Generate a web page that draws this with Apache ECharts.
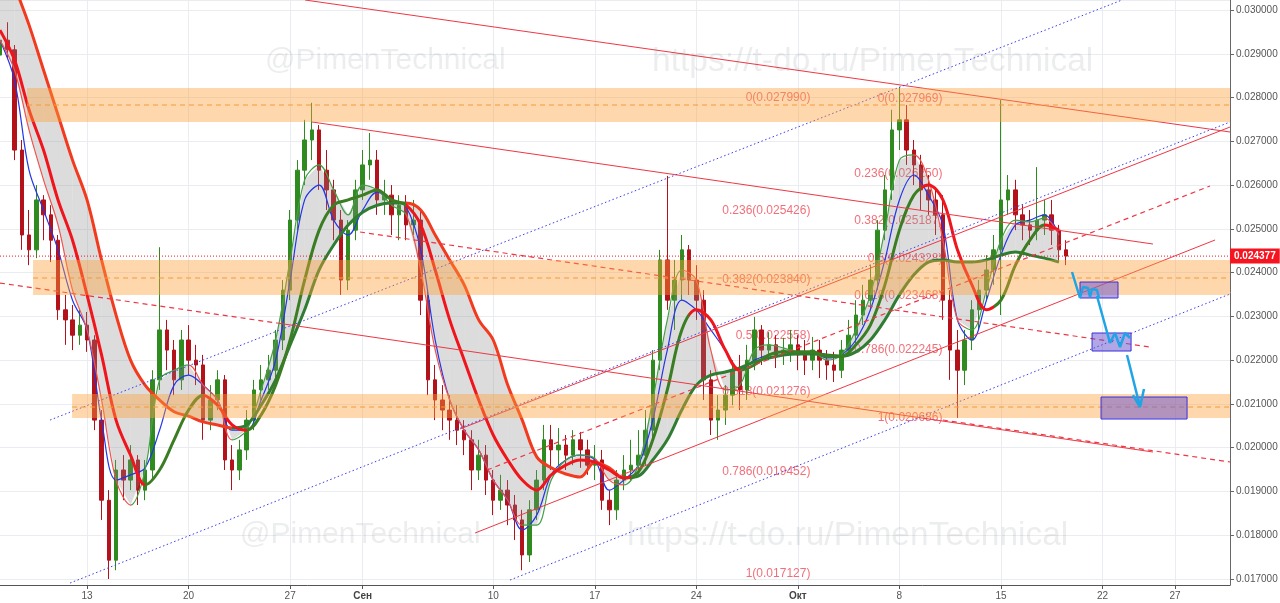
<!DOCTYPE html>
<html><head><meta charset="utf-8">
<script src="https://cdn.jsdelivr.net/npm/echarts@6/dist/echarts.min.js"></script>
<style>html,body{margin:0;padding:0;background:#fff}#c{width:1280px;height:603px}</style>
</head><body><div id="c"></div>
<script>
// ---------- data ----------
const tickDays = [0,7,14,19,28,35,42,49,56,63,70,75];
const tickLabels = ['13','20','27','Сен','10','17','24','Окт','8','15','22','27'];
const boldLabels = ['Сен','Окт'];
const xMin = -6.0, xMax = 78.79, yMin = 0.016863, yMax = 0.030228;
const lastPrice = 0.024377;

// [day, open, close, low, high]
const candles = [
[-6,.02897,.02931,.02886,.02954],[-5.5,.02931,.02909,.02890,.02972],[-5,.02909,.02680,.02657,.02920],[-4.5,.02680,.02486,.02452,.02703],
[-4,.02486,.02452,.02417,.02543],[-3.5,.02452,.02566,.02433,.02600],[-3,.02566,.02532,.02474,.02577],[-2.5,.02532,.02474,.02424,.02554],
[-2,.02474,.02315,.02292,.02486],[-1.5,.02315,.02292,.02235,.02349],[-1,.02292,.02257,.02223,.02326],[-0.5,.02257,.02280,.02235,.02315],
[0,.02280,.02246,.02219,.02310],[0.5,.02246,.02063,.02040,.02257],[1,.02063,.01880,.01835,.02086],[1.5,.01880,.01743,.01700,.01903],
[2,.01743,.01949,.01720,.01972],[2.5,.01949,.01926,.01880,.01983],[3,.01926,.01972,.01903,.02006],[3.5,.01972,.01903,.01869,.01983],
[4,.01903,.01949,.01880,.01972],[4.5,.01949,.02155,.01931,.02177],[5,.02155,.02269,.02132,.02458],[5.5,.02269,.02223,.02177,.02292],
[6,.02223,.02155,.02120,.02246],[6.5,.02155,.02246,.02132,.02269],[7,.02246,.02200,.02166,.02280],[7.5,.02200,.02189,.02143,.02235],
[8,.02189,.02063,.02018,.02212],[8.5,.02063,.02109,.02040,.02143],[9,.02109,.02155,.02086,.02177],[9.5,.02155,.01972,.01949,.02166],
[10,.01972,.01949,.01903,.02006],[10.5,.01949,.01995,.01926,.02018],[11,.01995,.02063,.01972,.02086],[11.5,.02063,.02132,.02040,.02155],
[12,.02132,.02155,.02109,.02189],[12.5,.02155,.02177,.02132,.02212],[13,.02177,.02246,.02159,.02269],[13.5,.02246,.02360,.02223,.02383],
[14,.02360,.02520,.02337,.02543],[14.5,.02520,.02634,.02497,.02657],[15,.02634,.02703,.02600,.02749],[15.5,.02703,.02726,.02657,.02788],
[16,.02726,.02634,.02589,.02737],[16.5,.02634,.02589,.02543,.02680],[17,.02589,.02520,.02474,.02612],[17.5,.02520,.02383,.02349,.02543],
[18,.02383,.02497,.02360,.02520],[18.5,.02497,.02589,.02474,.02612],[19,.02589,.02646,.02566,.02680],[19.5,.02646,.02657,.02612,.02719],
[20,.02657,.02566,.02532,.02680],[20.5,.02566,.02577,.02532,.02612],[21,.02577,.02532,.02486,.02600],[21.5,.02532,.02554,.02474,.02577],
[22,.02554,.02509,.02474,.02577],[22.5,.02509,.02520,.02486,.02566],[23,.02520,.02337,.02303,.02543],[23.5,.02337,.02155,.02120,.02360],
[24,.02155,.02109,.02063,.02189],[24.5,.02109,.02086,.02040,.02143],[25,.02086,.02063,.02018,.02120],[25.5,.02063,.02040,.02006,.02097],
[26,.02040,.02018,.01983,.02063],[26.5,.02018,.01949,.01903,.02040],[27,.01949,.01983,.01926,.02018],[27.5,.01983,.01926,.01892,.02006],
[28,.01926,.01880,.01846,.01949],[28.5,.01880,.01903,.01858,.01938],[29,.01903,.01869,.01823,.01926],[29.5,.01869,.01835,.01789,.01892],
[30,.01835,.01755,.01720,.01858],[30.5,.01755,.01858,.01739,.01880],[31,.01858,.01926,.01835,.01949],[31.5,.01926,.02018,.01903,.02052],
[32,.02018,.01995,.01949,.02052],[32.5,.01995,.02006,.01960,.02045],[33,.02006,.01983,.01949,.02029],[33.5,.01983,.02018,.01960,.02040],
[34,.02018,.01995,.01954,.02036],[34.5,.01995,.01960,.01938,.02018],[35,.01960,.01972,.01926,.02006],[35.5,.01972,.01880,.01858,.01995],
[36,.01880,.01858,.01823,.01903],[36.5,.01858,.01926,.01835,.01949],[37,.01926,.01949,.01903,.01983],[37.5,.01949,.01960,.01926,.02018],
[38,.01960,.01983,.01938,.02040],[38.5,.01983,.02040,.01960,.02086],[39,.02040,.02200,.02018,.02223],[39.5,.02200,.02429,.02177,.02452],
[40,.02429,.02337,.02315,.02621],[40.5,.02337,.02383,.02269,.02429],[41,.02383,.02452,.02337,.02486],[41.5,.02452,.02383,.02349,.02463],
[42,.02383,.02337,.02292,.02417],[42.5,.02337,.02155,.02109,.02360],[43,.02155,.02063,.02029,.02177],[43.5,.02063,.02086,.02018,.02120],
[44,.02086,.02120,.02052,.02143],[44.5,.02120,.02177,.02097,.02200],[45,.02177,.02132,.02086,.02212],[45.5,.02132,.02200,.02109,.02235],
[46,.02200,.02269,.02177,.02299],[46.5,.02269,.02223,.02189,.02280],[47,.02223,.02235,.02200,.02264],[47.5,.02235,.02212,.02182,.02257],
[48,.02212,.02223,.02189,.02251],[48.5,.02223,.02235,.02196,.02269],[49,.02235,.02212,.02177,.02257],[49.5,.02212,.02200,.02166,.02246],
[50,.02200,.02223,.02177,.02253],[50.5,.02223,.02200,.02159,.02246],[51,.02200,.02189,.02155,.02223],[51.5,.02189,.02177,.02150,.02219],
[52,.02177,.02223,.02159,.02246],[52.5,.02223,.02257,.02212,.02292],[53,.02257,.02303,.02235,.02337],[53.5,.02303,.02337,.02280,.02372],
[54,.02337,.02383,.02315,.02417],[54.5,.02383,.02497,.02360,.02520],[55,.02497,.02589,.02474,.02623],[55.5,.02589,.02726,.02566,.02772],
[56,.02726,.02749,.02680,.02824],[56.5,.02749,.02680,.02646,.02783],[57,.02680,.02646,.02600,.02703],[57.5,.02646,.02589,.02543,.02669],
[58,.02589,.02566,.02532,.02623],[58.5,.02566,.02532,.02486,.02589],[59,.02532,.02337,.02292,.02577],[59.5,.02337,.02223,.02155,.02360],
[60,.02223,.02177,.02068,.02269],[60.5,.02177,.02246,.02143,.02269],[61,.02246,.02315,.02223,.02337],[61.5,.02315,.02360,.02269,.02383],
[62,.02360,.02406,.02337,.02440],[62.5,.02406,.02452,.02372,.02486],[63,.02452,.02566,.02303,.02794],[63.5,.02566,.02589,.02532,.02623],
[64,.02589,.02532,.02497,.02612],[64.5,.02532,.02509,.02474,.02554],[65,.02509,.02497,.02463,.02543],[65.5,.02497,.02520,.02474,.02641],
[66,.02520,.02532,.02486,.02566],[66.5,.02532,.02497,.02463,.02566],[67,.02497,.02452,.02424,.02509],[67.5,.02452,.024377,.02417,.02474]
];

const maDays = [-6,-5,-4,-3,-2,-1,0,1,2,3,4,5,6,7,8,9,10,11,12,13,14,15,16,17,18,19,20,21,22,23,24,25,26,27,28,29,30,31,32,33,34,35,36,37,38,39,40,41,42,43,44,45,46,47,48,49,50,51,52,53,54,55,56,57,58,59,60,61,62,63,64,65,66,67];
const maFast = [.02931,.02863,.02726,.02612,.02509,.02360,.02269,.02109,.01926,.01869,.01949,.02155,.02177,.02189,.02143,.02109,.02018,.02040,.02132,.02246,.02429,.02612,.02646,.02589,.02532,.02600,.02589,.02554,.02532,.02406,.02223,.02109,.02040,.01995,.01926,.01880,.01823,.01823,.01926,.01972,.01983,.01976,.01926,.01915,.01960,.02109,.02292,.02406,.02383,.02223,.02132,.02143,.02223,.02235,.02228,.02219,.02219,.02200,.02212,.02269,.02349,.02497,.02657,.02669,.02612,.02474,.02292,.02269,.02360,.02474,.02520,.02516,.02525,.02486];
const maMid = [.02954,.02886,.02772,.02680,.02566,.02474,.02349,.02212,.02063,.01983,.01915,.01949,.02018,.02086,.02120,.02097,.02052,.02040,.02075,.02143,.02246,.02383,.02497,.02554,.02566,.02577,.02589,.02566,.02554,.02509,.02406,.02292,.02200,.02109,.02029,.01972,.01926,.01903,.01938,.01960,.01972,.01967,.01949,.01931,.01944,.02018,.02132,.02269,.02315,.02292,.02223,.02177,.02189,.02212,.02219,.02219,.02219,.02209,.02209,.02235,.02280,.02372,.02497,.02577,.02600,.02566,.02452,.02372,.02315,.02337,.02417,.02474,.02509,.02497];
const maSlow = [.03160,.03057,.02966,.02863,.02760,.02657,.02566,.02429,.02303,.02200,.02143,.02109,.02082,.02072,.02059,.02052,.02045,.02052,.02097,.02155,.02235,.02315,.02406,.02463,.02509,.02538,.02554,.02559,.02559,.02543,.02486,.02429,.02372,.02292,.02246,.02143,.02063,.01979,.01954,.01940,.01933,.01967,.01954,.01931,.01935,.01972,.02018,.02086,.02143,.02166,.02173,.02182,.02196,.02205,.02212,.02214,.02214,.02212,.02209,.02219,.02246,.02292,.02349,.02395,.02424,.02429,.02424,.02424,.02429,.02440,.02447,.02440,.02433,.02424];
const maBlue = [.02931,.02840,.02634,.02543,.02452,.02337,.02269,.02063,.01926,.01938,.01954,.02040,.02143,.02166,.02143,.02109,.02040,.02040,.02109,.02200,.02383,.02566,.02600,.02520,.02486,.02543,.02584,.02566,.02550,.02452,.02246,.02109,.02040,.01995,.01926,.01880,.01812,.01846,.01938,.01972,.01983,.01972,.01903,.01926,.01960,.02063,.02223,.02337,.02315,.02269,.02223,.02177,.02200,.02212,.02219,.02216,.02219,.02205,.02212,.02246,.02315,.02429,.02566,.02623,.02577,.02509,.02292,.02246,.02337,.02440,.02509,.02520,.02532,.02486];

// trend direction breakpoints (day) : falling stretches
const fastFalling = [[-7,3],[7,10],[22,30],[35,37],[41,44],[57,60.5],[66,70]];
const midFalling  = [[-7,4],[8,11],[22,37.5],[41.5,45],[57.5,62.5],[66,70]];
const slowFalling = [[-7,10],[22,37]];

// Fibonacci groups
const fibRatios = ['0','0.236','0.382','0.5','0.618','0.786','1'];
const fibLeftLevels  = [0.027990,0.025426,0.023840,0.022558,0.021276,0.019452,0.017127];
const fibRightLevels = [0.027969,0.026250,0.025187,0.024328,0.023468,0.022245,0.020686];
const fibLeftDay = 49.9, fibRightDay = 59.0;

// trend lines [[day,price],[day,price]]
const redSolidLines = [
  [[15.03,0.030228],[78.79,0.027212]],
  [[15.51,0.027441],[73.48,0.024653]],
  [[25.71,0.020427],[78.79,0.027326]],
  [[26.75,0.018051],[77.76,0.024745]],
  [[13.10,0.022848],[73.48,0.019901]]
];
const redDashedLines = [
  [[27.57,0.019490],[77.41,0.025979]],
  [[-6.0,0.023762],[13.10,0.022848]],
  [[59.0,0.020632],[78.79,0.019673]],
  [[18.82,0.024927],[73.27,0.022300]]
];
const blueDottedLines = [
  [[-2.55,0.020632],[71.35,0.030228]],
  [[-1.17,0.016908],[78.79,0.027441]],
  [[29.16,0.016977],[78.79,0.023511]]
];

// horizontal zones [dayStart, priceTop, dayEnd, priceBottom]
const zones = [
  [-4.14,0.028217,78.79,0.027441],
  [-3.72,0.024288,78.79,0.023488],
  [-1.03,0.021226,78.79,0.020678]
];
const zoneMid = [[-4.14,0.027829],[-3.72,0.023877],[-1.03,0.020929]];

// forecast boxes and path
const forecastBoxes = [
  [68.45,0.023785,71.07,0.023420],
  [69.28,0.022620,71.97,0.022209],
  [69.90,0.021158,75.83,0.020655]
];
const forecastPaths = [
  [[67.90,0.024014],[68.45,0.023420],[68.66,0.023671],[69.00,0.023648],[69.14,0.023442],[69.28,0.023625],[69.62,0.023602],[69.76,0.023420]],
  [[69.62,0.023465],[70.52,0.022391],[70.86,0.022620],[71.21,0.022300],[71.55,0.022620],[71.90,0.022506]],
  [[71.69,0.022117],[72.59,0.020929]],
  [[72.10,0.021203],[72.59,0.020929],[72.86,0.021340]]
];

const watermarks = ['@PimenTechnical','https://t-do.ru/PimenTechnical'];

// ---------- chart ----------
const RED_THICK='#f0141c', GREEN_THICK='#2e7d32', RED_THIN='#ef5350', GREEN_THIN='#43a047';
function pieces(falling, redC, greenC){
  const p=[]; let cur=-10;
  falling.forEach(([a,b])=>{ if(a>cur) p.push({gte:cur,lt:a,color:greenC}); p.push({gte:a,lt:b,color:redC}); cur=b; });
  if(cur<100) p.push({gte:cur,lte:100,color:greenC});
  return p;
}
const pairs = arr => maDays.map((d,i)=>[d,arr[i]]);

const series = [];
const visualMap = [];
function fibSeries(day, levels){
  return {type:'scatter', z:1, silent:true, symbolSize:1, itemStyle:{color:'rgba(0,0,0,0)'},
    data: levels.map((v,i)=>({value:[day,v], name: fibRatios[i]+'('+v.toFixed(6)+')'})),
    label:{show:true, position:'left', distance:0, formatter:p=>p.name, color:'#ee4b57', fontSize:12, fontFamily:'Liberation Sans, Arial, sans-serif'}};
}
series.push(fibSeries(fibLeftDay, fibLeftLevels));
series.push(fibSeries(fibRightDay, fibRightLevels));
series.push({type:'candlestick', z:2, silent:true, barWidth:4, data:candles, encode:{x:0,y:[1,2,3,4]},
  itemStyle:{color:'#2f8a1f', color0:'#b3121b', borderColor:'#2f8a1f', borderColor0:'#b3121b', borderWidth:1}});
// current price line
series.push({type:'line', z:11, silent:true, symbol:'none', data:[[xMin,lastPrice],[xMax,lastPrice]],
  lineStyle:{color:'#f5141f', type:[1,2], width:1},
  endLabel:{show:true, distance:0, formatter:()=>lastPrice.toFixed(6), backgroundColor:'#f5141f', color:'#fff', fontWeight:'bold', fontSize:10, padding:[3,4,2,4], fontFamily:'Liberation Sans, Arial, sans-serif'}});
// gray cloud between fast and slow lines
series.push({type:'custom', z:3, silent:true, clip:true,
  data: maDays.slice(0,-1).map((d,i)=>[d,maFast[i],i]),
  renderItem:(params,api)=>{
    const i=api.value(2);
    const pts=[api.coord([maDays[i],maFast[i]]),api.coord([maDays[i+1],maFast[i+1]]),api.coord([maDays[i+1],maSlow[i+1]]),api.coord([maDays[i],maSlow[i]])];
    return {type:'polygon', shape:{points:pts}, style:{fill:'rgba(140,140,140,0.3)'}};
  }});
function maLine(arr, width, z){ return {type:'line', z:z, silent:true, symbol:'none', smooth:0.35, data:pairs(arr), lineStyle:{width:width}}; }
series.push(maLine(maBlue,1.2,4)); series[series.length-1].lineStyle.color='#2236e8';
series.push(maLine(maFast,1.2,4)); visualMap.push({show:false,type:'piecewise',dimension:0,seriesIndex:series.length-1,pieces:pieces(fastFalling,RED_THIN,GREEN_THIN)});
series.push(maLine(maSlow,3,4)); visualMap.push({show:false,type:'piecewise',dimension:0,seriesIndex:series.length-1,pieces:pieces(slowFalling,'#f23a1e',GREEN_THICK)});
series.push(maLine(maMid,3,5)); visualMap.push({show:false,type:'piecewise',dimension:0,seriesIndex:series.length-1,pieces:pieces(midFalling,RED_THICK,'#3a7d22')});
redSolidLines.forEach(l=>series.push({type:'line',z:6,silent:true,symbol:'none',data:l,lineStyle:{color:'#ee3744',width:1}}));
redDashedLines.forEach(l=>series.push({type:'line',z:6,silent:true,symbol:'none',data:l,lineStyle:{color:'#ee3744',width:1.2,type:[5,4]}}));
blueDottedLines.forEach(l=>series.push({type:'line',z:6,silent:true,symbol:'none',data:l,lineStyle:{color:'#3b3bf0',width:1,type:[1.5,2.5]}}));
series.push({type:'custom', z:7, silent:true, clip:true, data:zones, encode:{x:[0,2],y:[1,3]},
  renderItem:(params,api)=>{
    const a=api.coord([api.value(0),api.value(1)]), b=api.coord([api.value(2),api.value(3)]);
    return {type:'rect', shape:{x:a[0],y:a[1],width:b[0]-a[0],height:b[1]-a[1]}, style:{fill:'rgba(252,160,58,0.42)'}};
  }});
zoneMid.forEach(m=>series.push({type:'line',z:8,silent:true,symbol:'none',data:[m,[xMax,m[1]]],lineStyle:{color:'#f39a3c',width:1,type:[5,4]}}));
series.push({type:'custom', z:9, silent:true, clip:true, data:forecastBoxes, encode:{x:[0,2],y:[1,3]},
  renderItem:(params,api)=>{
    const a=api.coord([api.value(0),api.value(1)]), b=api.coord([api.value(2),api.value(3)]);
    return {type:'rect', shape:{x:a[0],y:a[1],width:b[0]-a[0],height:b[1]-a[1]}, style:{fill:'rgba(100,80,205,0.5)',stroke:'#3b2fd8',lineWidth:1}};
  }});
forecastPaths.forEach(p=>series.push({type:'line',z:10,silent:true,symbol:'none',data:p,lineStyle:{color:'#1fa5e6',width:2.5}}));

const wmStyle = {fill:'rgba(110,115,125,0.13)', fontFamily:'Liberation Sans, Arial, sans-serif'};
const graphic = [
  {type:'text', left:265, top:46, z:100, silent:true, style:Object.assign({text:watermarks[0], fontSize:30},wmStyle)},
  {type:'text', left:652, top:45, z:100, silent:true, style:Object.assign({text:watermarks[1], fontSize:33.5},wmStyle)},
  {type:'text', left:240, top:520, z:100, silent:true, style:Object.assign({text:watermarks[0], fontSize:30},wmStyle)},
  {type:'text', left:627, top:519, z:100, silent:true, style:Object.assign({text:watermarks[1], fontSize:33.5},wmStyle)}
];

const chart = echarts.init(document.getElementById('c'));
chart.setOption({
  animation:false,
  backgroundColor:'#ffffff',
  grid:{left:0, right:50, top:0, bottom:18, containLabel:false, outerBoundsMode:'none'},
  xAxis:{type:'value', min:xMin, max:xMax,
    axisLine:{show:true, onZero:false, lineStyle:{color:'#555', width:1}},
    axisTick:{show:true, length:4, customValues:tickDays, lineStyle:{color:'#555'}},
    axisLabel:{customValues:tickDays, margin:6, color:'#555', fontSize:10, fontFamily:'Liberation Sans, Arial, sans-serif',
      formatter:v=>{const i=tickDays.indexOf(Math.round(v)); if(i<0) return ''; const t=tickLabels[i]; return boldLabels.includes(t)?'{b|'+t+'}':t;},
      rich:{b:{fontWeight:'bold', color:'#444', fontSize:10}}},
    splitLine:{show:true, lineStyle:{color:'#e9edf2', width:1}}},
  yAxis:{type:'value', position:'right', min:yMin, max:yMax, splitNumber:13, minInterval:0.001, maxInterval:0.001, scale:true,
    axisLine:{show:true, onZero:false, lineStyle:{color:'#666', width:1}},
    axisTick:{show:true, length:4, lineStyle:{color:'#666'}},
    axisLabel:{color:'#555', fontSize:10, margin:6, showMinLabel:false, showMaxLabel:false, fontFamily:'Liberation Sans, Arial, sans-serif',
      formatter:v=>v.toFixed(6)},
    splitLine:{show:true, lineStyle:{color:'#e9edf2', width:1}}},
  visualMap: visualMap,
  graphic: graphic,
  series: series
});
</script></body></html>
